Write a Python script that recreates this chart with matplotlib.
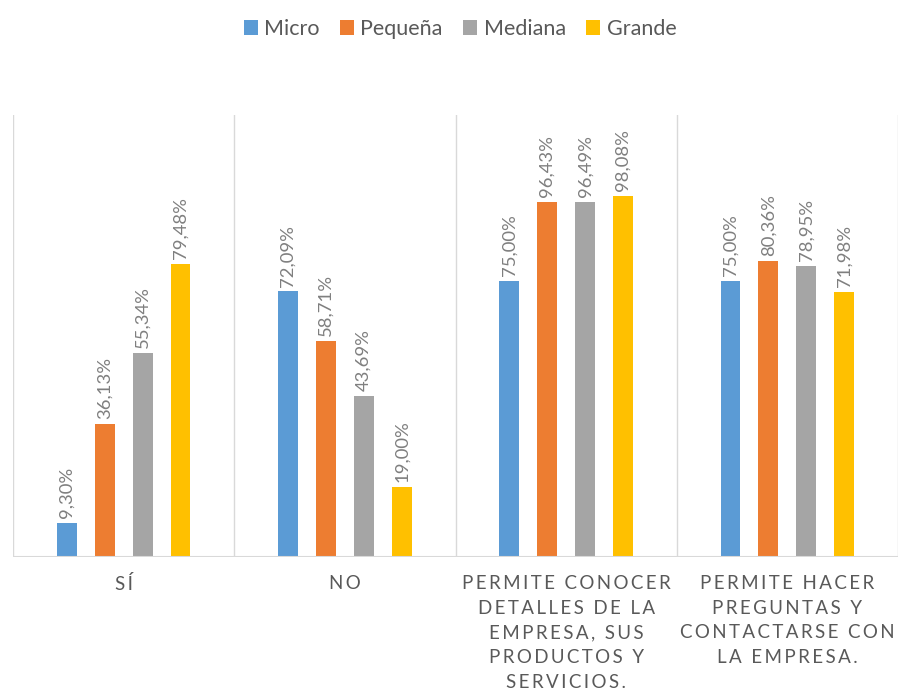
import numpy as np
import matplotlib.pyplot as plt

# Dữ liệu của biểu đồ
categories = ['SÍ', 'NO',
              'PERMITE CONOCER\nDETALLES DE LA\nEMPRESA, SUS\nPRODUCTOS Y\nSERVICIOS.',
              'PERMITE HACER\nPREGUNTAS Y\nCONTACTARSE CON\nLA EMPRESA.']
series_names = ['Micro', 'Pequeña', 'Mediana', 'Grande']
micro = [9.30, 72.09, 75.00, 75.00]
pequena = [36.13, 58.71, 96.43, 80.36]
mediana = [55.34, 43.69, 96.49, 78.95]
grande = [79.48, 19.00, 98.08, 71.98]
colors = ['#5B9BD5', '#ED7D31', '#A5A5A5', '#FFC000']

plt.rcParams['font.family'] = ['Lato', 'DejaVu Sans']


def spaced(text):
    # Excel dãn chữ, nên chèn khoảng trắng mỏng giữa các ký tự
    lines = []
    for line in text.split('\n'):
        lines.append('\u2009'.join(line))
    return '\n'.join(lines)


def main():
    fig = plt.figure(figsize=(8.98, 6.94), dpi=100)
    ax = fig.add_axes([13 / 898, 1 - 557 / 694, 885 / 898, 442 / 694])

    values = [micro, pequena, mediana, grande]
    x = np.arange(len(categories))
    offsets = [-0.257, -0.086, 0.086, 0.257]
    width = 0.09

    for vals, off, col, name in zip(values, offsets, colors, series_names):
        ax.bar(x + off, vals, width=width, color=col, label=name, zorder=3)
        for xi, v in zip(x, vals):
            ax.text(xi + off, v + 1.3, f'{v:.2f}%'.replace('.', ','),
                    rotation=90, ha='center', va='bottom',
                    fontsize=13.3, color='#7F7F7F')

    ax.set_xlim(-0.5, len(categories) - 0.5)
    ax.set_ylim(0, 120)

    # Đường phân cách giữa các nhóm
    for b in np.arange(-0.5, len(categories), 1.0):
        ax.axvline(b, color='#D9D9D9', lw=1, zorder=1)
    ax.axhline(0, color='#D9D9D9', lw=1.5, zorder=4)

    for s in ax.spines.values():
        s.set_visible(False)
    ax.set_yticks([])
    ax.set_xticks(x)
    ax.set_xticklabels([spaced(c) for c in categories], fontsize=13.5,
                       color='#595959', linespacing=1.55, va='top')
    ax.tick_params(axis='x', length=0, pad=13)

    fig.legend(loc='center', bbox_to_anchor=(460 / 898, 1 - 29 / 694), ncol=4,
               frameon=False, fontsize=15.5, labelcolor='#595959',
               handlelength=0.65, handleheight=0.65, handletextpad=0.3,
               columnspacing=0.95)

    fig.savefig('out.png', dpi=100)


if __name__ == '__main__':
    main()
